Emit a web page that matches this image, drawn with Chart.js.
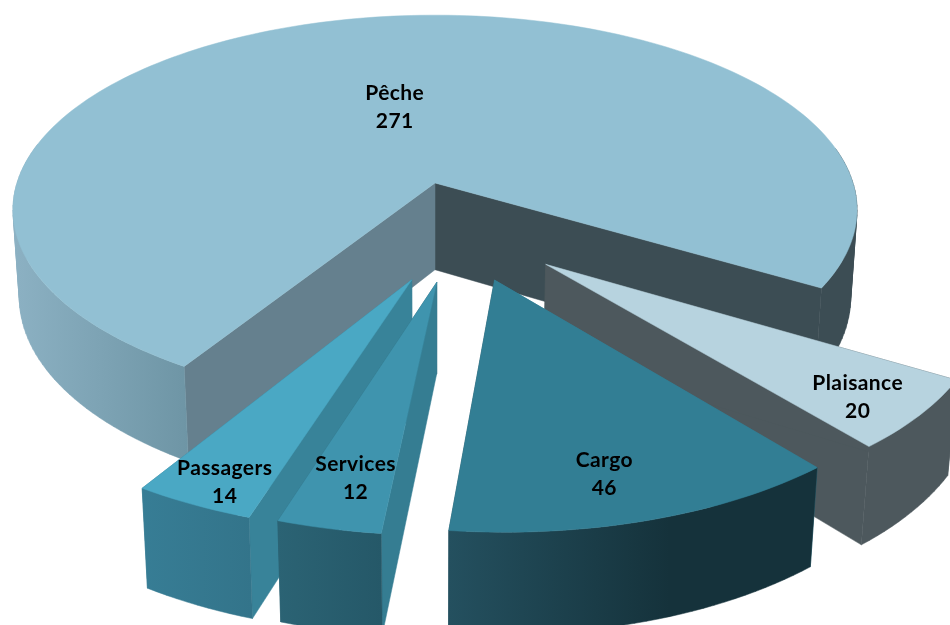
<!DOCTYPE html>
<html>
<head>
<meta charset="utf-8">
<style>
  html, body { margin: 0; padding: 0; background: #fff; }
  #wrap { width: 950px; height: 625px; }
</style>
<script src="https://cdn.jsdelivr.net/npm/chart.js@4"></script>
</head>
<body>
<div id="wrap"><canvas id="pieChart" width="950" height="625"></canvas></div>
<script>
const categories = ["Pêche", "Plaisance", "Cargo", "Services", "Passagers"];
const boats = [271, 20, 46, 12, 14];

// look of the slices, same order as categories
const topColors = ["#92C0D3", "#B7D3DF", "#327E94", "#3F94AE", "#4AA8C4"];
const startWall = ["#65808E", "#4D585D", "#327E94", "#357D92", "#388399"];
const endWall = ["#3C4D54", "#4D585D", "#24505F", "#285E6E", "#367A90"];
const rimStops = [
  [[0, "#8CB1C3"], [0.208, "#6E95A5"], [0.21, "#3C4D54"], [1, "#3C4D54"]],
  [[0, "#4D585D"], [1, "#4D585D"]],
  [[0, "#24505F"], [0.6, "#15323B"], [1, "#15323B"]],
  [[0, "#2B6374"], [1, "#255868"]],
  [[0, "#377D95"], [1, "#33748A"]]
];
const explodeU = [0, 0.25, 0.133, 0.004, -0.052];
const explodeV = [0, 0.402, 0.475, 0.485, 0.474];
const sliceRadius = [1, 0.98, 0.985, 0.985, 0.985];
const labelRadius = [0.433, 0.84, 0.8, 0.8, 0.88];
const labelShift = [[0, 0], [-4, 6], [-13, 5], [4, 2], [5, 5]];
const drawOrder = [0, 1, 4, 3, 2];

// perspective of the pie plane
const view = { cx: 435, cy: 183, b: 418, a: 191, p: 0.138, q: 0.015, h: 88 };

function project(u, v, low) {
  let w = 1 - view.p * v + (low ? view.q : 0);
  return {
    x: view.cx + view.b * u / w,
    y: view.cy + (view.a * v + (low ? view.h : 0)) / w
  };
}

function fillPoly(ctx, pts, fill) {
  ctx.beginPath();
  pts.forEach((pt, n) => n ? ctx.lineTo(pt.x, pt.y) : ctx.moveTo(pt.x, pt.y));
  ctx.closePath();
  ctx.fillStyle = fill;
  ctx.fill();
  ctx.strokeStyle = fill;
  ctx.lineWidth = 0.5;
  ctx.stroke();
}

function signedArea(pts) {
  let area = 0;
  pts.forEach((pt, n) => {
    let next = pts[(n + 1) % pts.length];
    area += pt.x * next.y - next.x * pt.y;
  });
  return area;
}

function arcAngles(start, end) {
  let list = [];
  let steps = Math.max(8, Math.ceil((end - start) * 40));
  for (let s = 0; s <= steps; s++) list.push(start + (end - start) * s / steps);
  return list;
}

function rimPoint(i, t, low) {
  return project(
    explodeU[i] + sliceRadius[i] * Math.cos(t),
    explodeV[i] + sliceRadius[i] * Math.sin(t),
    low
  );
}

const pie3d = {
  id: "pie3d",
  // the flat arcs are replaced by the projected ones
  beforeDatasetDraw() { return false; },
  afterDatasetsDraw(chart) {
    let ctx = chart.ctx;
    let arcs = chart.getDatasetMeta(0).data;

    drawOrder.forEach(i => {
      let angles = arcAngles(arcs[i].startAngle, arcs[i].endAngle);
      let top = angles.map(t => rimPoint(i, t, false));
      let low = angles.map(t => rimPoint(i, t, true));
      let apexTop = project(explodeU[i], explodeV[i], false);
      let apexLow = project(explodeU[i], explodeV[i], true);

      fillPoly(ctx, [apexTop, top[top.length - 1], low[low.length - 1], apexLow], endWall[i]);
      fillPoly(ctx, [apexTop, top[0], low[0], apexLow], startWall[i]);

      let xs = top.concat(low).map(pt => pt.x);
      let grad = ctx.createLinearGradient(Math.min(...xs), 0, Math.max(...xs), 0);
      rimStops[i].forEach(st => grad.addColorStop(st[0], st[1]));

      // rim pieces in one path, all wound the same way so they join without seams
      ctx.beginPath();
      for (let s = 0; s < angles.length - 1; s++) {
        if (Math.sin(angles[s]) < -0.2) continue;
        let quad = [top[s], top[s + 1], low[s + 1], low[s]];
        if (signedArea(quad) < 0) quad.reverse();
        quad.forEach((pt, n) => n ? ctx.lineTo(pt.x, pt.y) : ctx.moveTo(pt.x, pt.y));
        ctx.closePath();
      }
      ctx.fillStyle = grad;
      ctx.fill();
      ctx.strokeStyle = grad;
      ctx.lineWidth = 0.5;
      ctx.stroke();

      fillPoly(ctx, [apexTop].concat(top), topColors[i]);
    });

    ctx.save();
    ctx.fillStyle = "#000";
    ctx.font = "700 21px Lato";
    ctx.letterSpacing = "0.4px";
    ctx.textAlign = "center";
    ctx.textBaseline = "middle";
    categories.forEach((name, i) => {
      let mid = (arcs[i].startAngle + arcs[i].endAngle) / 2;
      let pos = project(
        explodeU[i] + labelRadius[i] * Math.cos(mid),
        explodeV[i] + labelRadius[i] * Math.sin(mid),
        false
      );
      ctx.fillText(name, pos.x + labelShift[i][0], pos.y + labelShift[i][1] - 14);
      ctx.fillText(String(boats[i]), pos.x + labelShift[i][0], pos.y + labelShift[i][1] + 14);
    });
    ctx.restore();
  }
};

new Chart(document.getElementById("pieChart"), {
  type: "pie",
  data: {
    labels: categories,
    datasets: [{
      data: boats,
      backgroundColor: topColors,
      borderWidth: 0
    }]
  },
  options: {
    responsive: false,
    animation: false,
    rotation: 212,
    plugins: {
      legend: { display: false },
      tooltip: { enabled: false }
    }
  },
  plugins: [pie3d]
});
</script>
</body>
</html>
